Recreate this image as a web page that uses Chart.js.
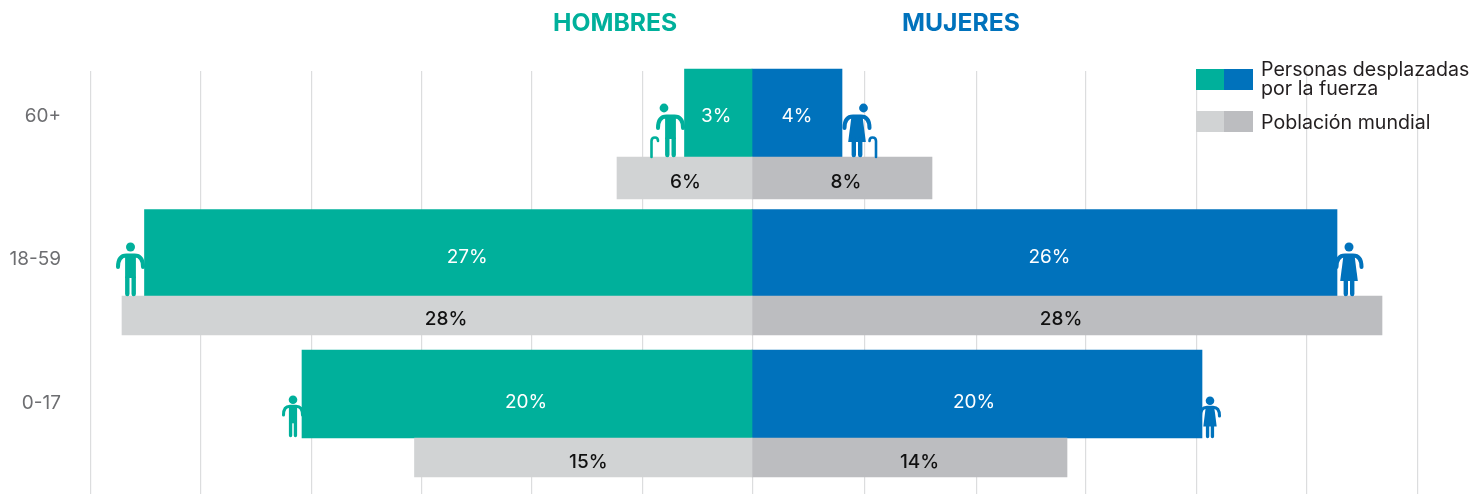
<!DOCTYPE html>
<html>
<head>
<meta charset="utf-8">
<title>Personas desplazadas por la fuerza</title>
<style>
  html, body { margin: 0; padding: 0; background: #fff; }
  #wrap { width: 1470px; height: 494px; }
</style>
<script src="https://cdn.jsdelivr.net/npm/chart.js@4"></script>
</head>
<body>
<div id="wrap"><canvas id="pyramid" width="1470" height="494"></canvas></div>
<script>
var ageGroups = ['60+', '18-59', '0-17'];
var hombresDesplazados = [3, 27, 20];
var mujeresDesplazadas = [4, 26, 20];
var hombresMundial = [6, 28, 15];
var mujeresMundial = [8, 28, 14];
// the guide lines are not at round percents in the source; the middle one is just off 0
// so that Chart.js does not pull the bars back from it
var gridTicks = [-29.4, -24.5, -19.58, -14.69, -9.8, -4.87, 0.01, 5.02, 9.96, 14.84, 19.78, 24.67, 29.56];

var TEAL = '#00B09B', BLUE = '#0072BC', GREY_L = '#D1D3D4', GREY_R = '#BCBDC0';
var FONT = 'Inter, sans-serif';

function negate(list) {
  return list.map(function(v) { return -v; });
}
// the grey bar of the top row is a bit thicker, so it gets its own datasets
function topRow(list) {
  return list.map(function(v, i) { return i === 0 ? v : null; });
}
function lowerRows(list) {
  return list.map(function(v, i) { return i === 0 ? null : v; });
}

// pictogram of a person standing on (x, base); kind: man / woman, s: size, cane: -1 / 1 / 0
function drawPerson(ctx, x, base, kind, s, headR, headDx, cane, color) {
  ctx.save();
  ctx.translate(x, base);
  ctx.fillStyle = color;
  ctx.strokeStyle = color;
  ctx.lineCap = 'round';
  ctx.beginPath();
  ctx.arc(headDx, -49 * s, headR, 0, Math.PI * 2);
  ctx.fill();
  ctx.scale(s, s);
  ctx.lineWidth = 4;
  ctx.beginPath();
  ctx.moveTo(-12.5, -29);
  ctx.quadraticCurveTo(-12.5, -40.5, -4, -40.5);
  ctx.lineTo(4, -40.5);
  ctx.quadraticCurveTo(12.5, -40.5, 12.5, -29);
  ctx.stroke();
  ctx.beginPath();
  if (kind === 'man') {
    ctx.rect(-5.4, -41, 10.8, 23);
  } else {
    ctx.moveTo(-5.5, -41);
    ctx.lineTo(5.5, -41);
    ctx.lineTo(8.8, -15);
    ctx.lineTo(-8.8, -15);
    ctx.closePath();
  }
  ctx.fill();
  ctx.lineWidth = 4.4;
  ctx.beginPath();
  ctx.moveTo(-3.2, -18);
  ctx.lineTo(-3.2, -2);
  ctx.moveTo(3.2, -18);
  ctx.lineTo(3.2, -2);
  ctx.stroke();
  if (cane) {
    ctx.lineWidth = 2.6;
    ctx.beginPath();
    ctx.moveTo(19 * cane, 0);
    ctx.lineTo(19 * cane, -16);
    ctx.quadraticCurveTo(19 * cane, -19.5, 15.5 * cane, -19.5);
    ctx.quadraticCurveTo(12.5 * cane, -19.5, 12.5 * cane, -16);
    ctx.stroke();
  }
  ctx.restore();
}

var peopleIcons = {
  id: 'peopleIcons',
  afterDatasetsDraw: function(chart) {
    var ctx = chart.ctx;
    var men = chart.getDatasetMeta(4).data;
    var women = chart.getDatasetMeta(5).data;
    drawPerson(ctx, men[0].x - 14, 157, 'man', 1, 4.4, -6.5, -1, TEAL);
    drawPerson(ctx, men[1].x - 14, 296, 'man', 1, 4.5, 0, 0, TEAL);
    drawPerson(ctx, men[2].x - 9, 437, 'man', 0.76, 4.3, 0, 0, TEAL);
    drawPerson(ctx, women[0].x + 15, 157, 'woman', 1, 4.4, 6.5, 1, BLUE);
    drawPerson(ctx, women[1].x + 12, 296, 'woman', 1, 4.5, 0, 0, BLUE);
    drawPerson(ctx, women[2].x + 8, 438, 'woman', 0.76, 4.3, 0, 0, BLUE);
  }
};

// percent labels; in the source they sit a little off the bar centres
var labelShiftX = {
  hm: [1, 9, 5], mm: [4, -6, 10],
  hd: [-2, 19, -1], md: [0, 5, -3]
};
var labelShiftY = { grey: [4.5, 3.5, 4.5], color: [0, -2, -1] };
var barLabels = {
  id: 'barLabels',
  afterDatasetsDraw: function(chart) {
    var ctx = chart.ctx;
    ctx.save();
    ctx.textAlign = 'center';
    ctx.textBaseline = 'middle';
    chart.data.datasets.forEach(function(ds, i) {
      chart.getDatasetMeta(i).data.forEach(function(bar, j) {
        if (ds.data[j] === null) return;
        var isGrey = ds.yAxisID !== 'yBars';
        var y = isGrey ? bar.y + labelShiftY.grey[j] : chart.scales.y.getPixelForValue(j) + labelShiftY.color[j];
        ctx.fillStyle = isGrey ? '#111' : '#fff';
        ctx.font = (isGrey ? '500 ' : '') + '19px ' + FONT;
        ctx.fillText(Math.abs(ds.data[j]) + '%', (bar.x + bar.base) / 2 + labelShiftX[ds.key][j], y);
      });
    });
    ctx.restore();
  }
};

// HOMBRES / MUJERES heads and the two-tone legend
var headings = {
  id: 'headings',
  afterDraw: function(chart) {
    var ctx = chart.ctx;
    ctx.save();
    ctx.textBaseline = 'middle';
    ctx.textAlign = 'left';
    ctx.font = 'bold 24.7px ' + FONT;
    ctx.fillStyle = TEAL;
    ctx.fillText('HOMBRES', 553, 24);
    ctx.fillStyle = BLUE;
    ctx.fillText('MUJERES', 902, 24);

    ctx.fillStyle = TEAL;
    ctx.fillRect(1196, 69, 28, 21);
    ctx.fillStyle = BLUE;
    ctx.fillRect(1224, 69, 29, 21);
    ctx.fillStyle = GREY_L;
    ctx.fillRect(1196, 111, 28, 21);
    ctx.fillStyle = GREY_R;
    ctx.fillRect(1224, 111, 29, 21);

    ctx.font = '19.6px ' + FONT;
    ctx.fillStyle = '#231F20';
    ctx.fillText('Personas desplazadas', 1261, 70);
    ctx.fillText('por la fuerza', 1261, 89);
    ctx.fillText('Población mundial', 1261, 123);
    ctx.restore();
  }
};

// the rows do not fill the plot area, so each y axis gets its own band
var rowBands = {
  id: 'rowBands',
  afterLayout: function(chart) {
    var bands = {
      y: [44.5, 474.5],
      yBars: [42.75, 464.25],
      yGreyTop: [108, 528],
      yGrey: [102.5, 528.5]
    };
    Object.keys(bands).forEach(function(id) {
      var scale = chart.scales[id];
      scale.top = bands[id][0];
      scale.bottom = bands[id][1];
      scale.configure();
    });
  }
};

new Chart(document.getElementById('pyramid'), {
  type: 'bar',
  plugins: [rowBands, peopleIcons, barLabels, headings],
  data: {
    labels: ageGroups,
    datasets: [
      { key: 'hm', label: 'Hombres, población mundial', data: topRow(negate(hombresMundial)), backgroundColor: GREY_L, yAxisID: 'yGreyTop', barThickness: 42, clip: false },
      { key: 'mm', label: 'Mujeres, población mundial', data: topRow(mujeresMundial), backgroundColor: GREY_R, yAxisID: 'yGreyTop', barThickness: 42, clip: false },
      { key: 'hm', label: 'Hombres, población mundial', data: lowerRows(negate(hombresMundial)), backgroundColor: GREY_L, yAxisID: 'yGrey', barThickness: 39, clip: false },
      { key: 'mm', label: 'Mujeres, población mundial', data: lowerRows(mujeresMundial), backgroundColor: GREY_R, yAxisID: 'yGrey', barThickness: 39, clip: false },
      { key: 'hd', label: 'Hombres desplazados', data: negate(hombresDesplazados), backgroundColor: TEAL, yAxisID: 'yBars', barThickness: 88, clip: false },
      { key: 'md', label: 'Mujeres desplazadas', data: mujeresDesplazadas, backgroundColor: BLUE, yAxisID: 'yBars', barThickness: 88, clip: false }
    ]
  },
  options: {
    indexAxis: 'y',
    responsive: false,
    animation: false,
    layout: { padding: { top: 71, right: 43, bottom: 0, left: 0 } },
    plugins: {
      legend: { display: false },
      title: { display: false },
      tooltip: { enabled: false }
    },
    datasets: { bar: { grouped: false } },
    scales: {
      x: {
        position: 'bottom',
        min: -30,
        max: 30,
        afterBuildTicks: function(scale) {
          scale.ticks = gridTicks.map(function(v) { return { value: v }; });
        },
        afterFit: function(scale) { scale.height = 0; },
        grid: { color: '#DCDDDE', lineWidth: 1.2, drawTicks: false },
        border: { display: false },
        ticks: { display: false }
      },
      y: {
        type: 'category',
        labels: ageGroups,
        position: 'left',
        afterFit: function(scale) {
          scale.width = 77;
          scale.paddingTop = 0;
          scale.paddingBottom = 0;
        },
        grid: { display: false, drawTicks: false },
        border: { display: false },
        ticks: { color: '#6D6E71', padding: 16, font: { family: FONT, size: 19 } }
      },
      yBars: { type: 'category', labels: ageGroups, display: false },
      yGreyTop: { type: 'category', labels: ageGroups, display: false },
      yGrey: { type: 'category', labels: ageGroups, display: false }
    }
  }
});
</script>
</body>
</html>
